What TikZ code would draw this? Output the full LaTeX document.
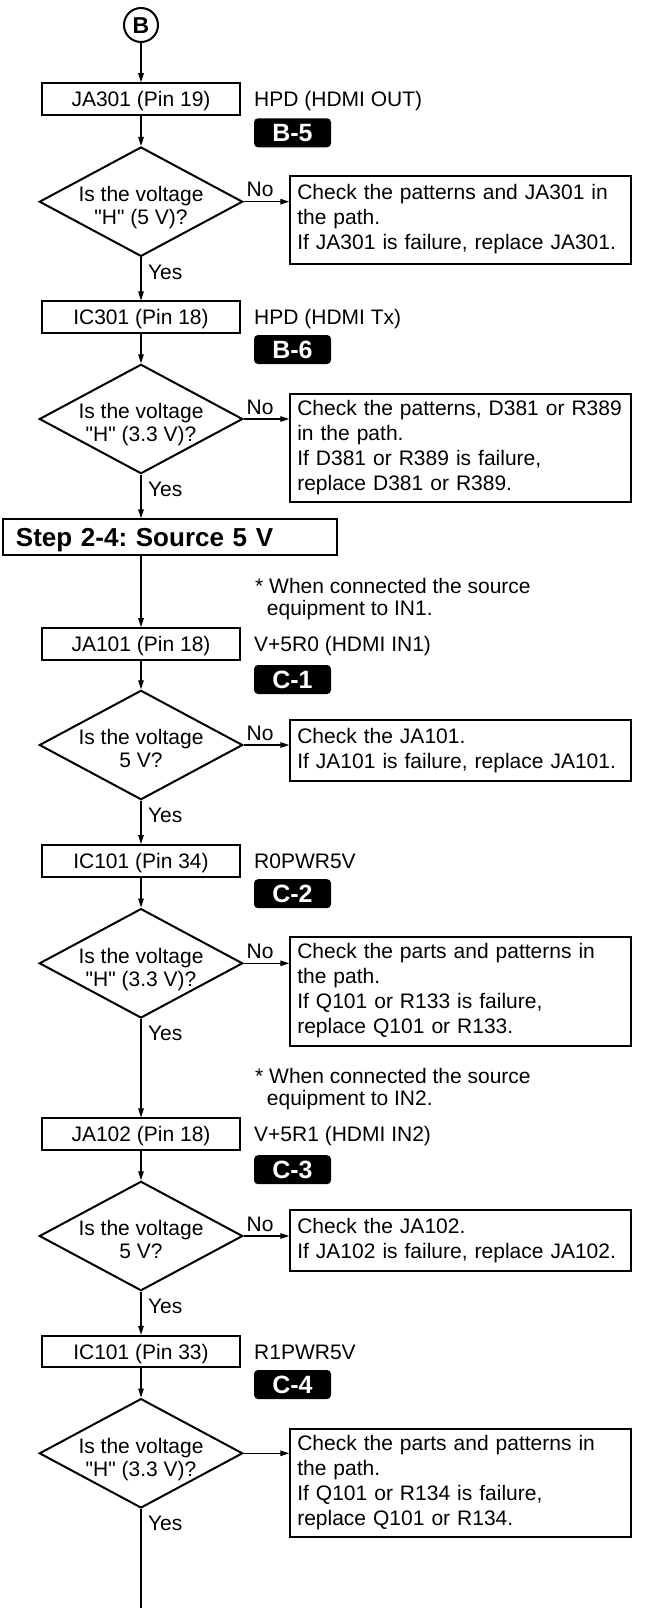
\documentclass[tikz,border=0pt]{standalone}
\usepackage{fontspec}
\setmainfont{Liberation Sans}[Ligatures=TeXOff]
\usetikzlibrary{shapes.geometric,arrows.meta}
\frenchspacing
\newcommand\qtext[2]{\makebox[0pt]{\raisebox{-12pt}[0pt][0pt]{\fontsize{21}{23}\selectfont\begin{tabular}{@{}c@{}}#1\\#2\end{tabular}}}}
\tikzset{
  every node/.style={font=\fontsize{21}{25}\selectfont},
  stepbox/.style={draw, line width=2pt, minimum width=198pt, minimum height=31.5pt, inner sep=0pt, text height=16pt, text depth=1pt},
  sidelbl/.style={anchor=west, inner sep=0pt, text height=16pt, text depth=1pt},
  badge/.style={fill=black, text=white, rounded corners=4pt, minimum width=77pt, minimum height=29pt, inner sep=0pt, font=\bfseries\fontsize{25}{25}\selectfont, text height=18pt, text depth=0pt},
  dia/.style={diamond, draw, line width=2pt, minimum width=203.4pt, minimum height=109.4pt, inner sep=0pt},
  chk/.style={draw, line width=2pt, anchor=north west, text width=326.7pt, align=left, inner xsep=7pt, inner ysep=0pt, minimum height=#1, execute at begin node=\strut, execute at end node=\strut},
  note/.style={anchor=north west, align=left, inner sep=0pt, font=\fontsize{21}{22}\selectfont},
  arr/.style={line width=1.2pt, -{Triangle[length=9pt,width=5.5pt]}},
  plain/.style={line width=1.2pt},
  yeslbl/.style={anchor=base west, inner sep=0pt, xshift=6.5pt, yshift=-21.6pt},
  nolbl/.style={anchor=base west, inner sep=0pt, xshift=2.3pt, yshift=5pt},
}
\begin{document}
\begin{tikzpicture}[x=1pt,y=-1pt]
\useasboundingbox (0,0) rectangle (669,1608);
% start
\node[circle, draw, line width=2pt, minimum size=34pt, inner sep=0pt, font=\bfseries\fontsize{23}{23}\selectfont, text height=16.5pt, text depth=0pt] (b) at (141,25) {B};
% block 1
\node[stepbox] (bx1) at (141,99) {JA301 (Pin 19)};
\node[sidelbl] (l1) at (254,99) {HPD (HDMI OUT)};
\node[badge] (g1) at (292.5,132.8) {B-5};
\node[dia] (d1) at (141,201.7) {\qtext{Is the voltage}{"H" (5 V)?}};
\node[chk=87.5pt] (n1) at (289.3,175) {Check the patterns and JA301 in\\the path.\\If JA301 is failure, replace JA301.};
% block 2
\node[stepbox] (bx2) at (141,317.2) {IC301 (Pin 18)};
\node[sidelbl] (l2) at (254,317.2) {HPD (HDMI Tx)};
\node[badge] (g2) at (292.5,349.5) {B-6};
\node[dia] (d2) at (141,419) {\qtext{Is the voltage}{"H" (3.3 V)?}};
\node[chk=108.5pt] (n2) at (289.3,392.7) {Check the patterns, D381 or R389\\in the path.\\If D381 or R389 is failure,\\replace D381 or R389.};
% step header
\node[draw, line width=2pt, minimum width=334pt, minimum height=35.7pt, text width=307.4pt, inner xsep=13.3pt, inner ysep=0pt, align=left, font=\bfseries\fontsize{26}{26}\selectfont, text height=19pt, text depth=0.4pt] (st) at (169.7,537.2) {Step 2-4: Source 5 V};
\node[note] (nt1) at (255,578.3) {\strut* When connected the source\\\hspace*{11.7pt}equipment to IN1.};
% block 3
\node[stepbox] (bx3) at (141,643.8) {JA101 (Pin 18)};
\node[sidelbl] (l3) at (254,643.8) {V+5R0 (HDMI IN1)};
\node[badge] (g3) at (292.5,679.5) {C-1};
\node[dia] (d3) at (141,745) {\qtext{Is the voltage}{5 V?}};
\node[chk=61pt] (n3) at (289.3,719) {Check the JA101.\\If JA101 is failure, replace JA101.};
% block 4
\node[stepbox] (bx4) at (141,860.8) {IC101 (Pin 34)};
\node[sidelbl] (l4) at (254,860.8) {R0PWR5V};
\node[badge] (g4) at (292.5,893.7) {C-2};
\node[dia] (d4) at (141,963.3) {\qtext{Is the voltage}{"H" (3.3 V)?}};
\node[chk=108.5pt] (n4) at (289.3,936) {Check the parts and patterns in\\the path.\\If Q101 or R133 is failure,\\replace Q101 or R133.};
\node[note] (nt2) at (255,1068.3) {\strut* When connected the source\\\hspace*{11.7pt}equipment to IN2.};
% block 5
\node[stepbox] (bx5) at (141,1134.2) {JA102 (Pin 18)};
\node[sidelbl] (l5) at (254,1134.2) {V+5R1 (HDMI IN2)};
\node[badge] (g5) at (292.5,1169.7) {C-3};
\node[dia] (d5) at (141,1236) {\qtext{Is the voltage}{5 V?}};
\node[chk=61pt] (n5) at (289.3,1209.3) {Check the JA102.\\If JA102 is failure, replace JA102.};
% block 6
\node[stepbox] (bx6) at (141,1351.5) {IC101 (Pin 33)};
\node[sidelbl] (l6) at (254,1351.5) {R1PWR5V};
\node[badge] (g6) at (292.5,1384.5) {C-4};
\node[dia] (d6) at (141,1453.3) {\qtext{Is the voltage}{"H" (3.3 V)?}};
\node[chk=108.5pt] (n6) at (289.3,1427.7) {Check the parts and patterns in\\the path.\\If Q101 or R134 is failure,\\replace Q101 or R134.};
\coordinate (end) at (141,1608);
% connectors
\draw[arr] (b) -- (bx1);
\draw[arr] (bx1) -- (d1);
\draw[arr] (d1.east) -- (d1.east -| n1.west) node[nolbl, pos=0] {No};
\draw[arr] (d1.south) -- (bx2.north) node[yeslbl, pos=0] {Yes};
\draw[arr] (bx2) -- (d2);
\draw[arr] (d2.east) -- (d2.east -| n2.west) node[nolbl, pos=0] {No};
\draw[arr] (d2.south) -- (d2.south |- st.north) node[yeslbl, pos=0] {Yes};
\draw[arr] (st.south -| bx3.north) -- (bx3.north);
\draw[arr] (bx3) -- (d3);
\draw[arr] (d3.east) -- (d3.east -| n3.west) node[nolbl, pos=0] {No};
\draw[arr] (d3.south) -- (bx4.north) node[yeslbl, pos=0] {Yes};
\draw[arr] (bx4) -- (d4);
\draw[arr] (d4.east) -- (d4.east -| n4.west) node[nolbl, pos=0] {No};
\draw[arr] (d4.south) -- (bx5.north) node[yeslbl, pos=0] {Yes};
\draw[arr] (bx5) -- (d5);
\draw[arr] (d5.east) -- (d5.east -| n5.west) node[nolbl, pos=0] {No};
\draw[arr] (d5.south) -- (bx6.north) node[yeslbl, pos=0] {Yes};
\draw[arr] (bx6) -- (d6);
\draw[arr] (d6.east) -- (d6.east -| n6.west);
\draw[plain] (d6.south) -- (end) node[yeslbl, pos=0] {Yes};
\end{tikzpicture}
\end{document}
